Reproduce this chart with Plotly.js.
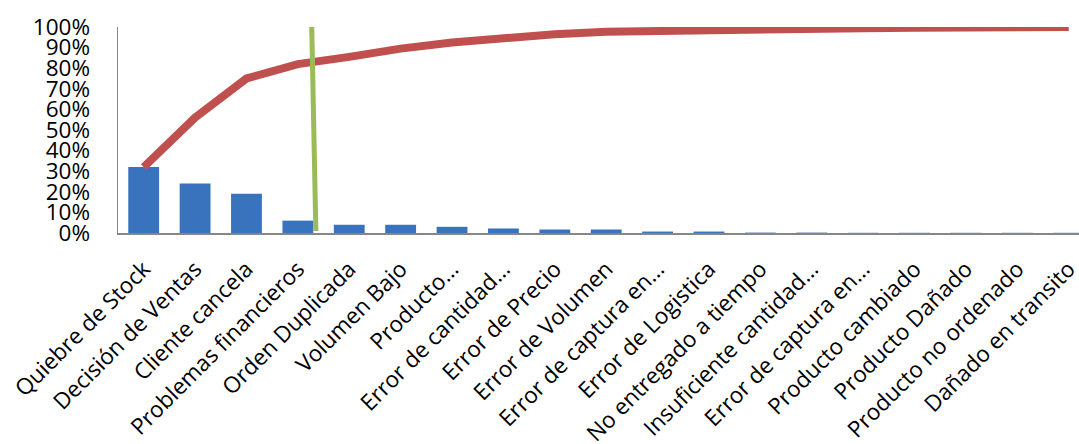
<!DOCTYPE html>
<html>
<head>
<meta charset="utf-8">
<script src="https://cdn.plot.ly/plotly-3.0.1.min.js"></script>
<style>html,body{margin:0;padding:0;background:#fff;}#chart{width:1079px;height:444px;}</style>
</head>
<body>
<div id="chart"></div>
<script>
const categories = [
  "Quiebre de Stock", "Decisión de Ventas", "Cliente cancela", "Problemas financieros",
  "Orden Duplicada", "Volumen Bajo", "Producto…", "Error de cantidad…",
  "Error de Precio", "Error de Volumen", "Error de captura en…", "Error de Logistica",
  "No entregado a tiempo", "Insuficiente cantidad…", "Error de captura en…",
  "Producto cambiado", "Producto Dañado", "Producto no ordenado", "Dañado en transito"
];
const share = [0.32, 0.24, 0.19, 0.06, 0.04, 0.04, 0.03, 0.022, 0.017, 0.017,
               0.007, 0.007, 0.002, 0.002, 0.001, 0.001, 0.001, 0.001, 0.001];
const cumulative = [0.32, 0.56, 0.75, 0.82, 0.855, 0.895, 0.925, 0.948, 0.965, 0.977,
                    0.982, 0.987, 0.990, 0.992, 0.994, 0.996, 0.998, 0.999, 1.0];
const cutoffX = [3.27, 3.35];
const cutoffY = [1.0, 0.01];
const yTicks = [0, 0.1, 0.2, 0.3, 0.4, 0.5, 0.6, 0.7, 0.8, 0.9, 1.0];
const yTickText = ["0%", "10%", "20%", "30%", "40%", "50%", "60%", "70%", "80%", "90%", "100%"];

const idx = categories.map((_, i) => i);
const FONT = "'Open Sans', sans-serif";

const traces = [
  {
    type: "bar", x: idx, y: share,
    marker: {color: "#3A73BD"},
    hoverinfo: "skip"
  },
  {
    type: "scatter", mode: "lines", x: idx, y: cumulative,
    line: {color: "#C0504D", width: 8},
    hoverinfo: "skip"
  },
  {
    type: "scatter", mode: "lines", x: cutoffX, y: cutoffY,
    line: {color: "#9BBB59", width: 5},
    hoverinfo: "skip"
  }
];

const layout = {
  width: 1079, height: 444,
  margin: {l: 118, r: 0, t: 27, b: 211, pad: 0},
  paper_bgcolor: "#ffffff", plot_bgcolor: "#ffffff",
  showlegend: false,
  bargap: 0.4,
  font: {family: FONT, color: "#000000", size: 22},
  xaxis: {
    range: [-0.5, 18.2],
    tickmode: "array", tickvals: idx, ticktext: categories,
    tickangle: -45,
    ticks: "", showgrid: false, zeroline: false,
    showline: true, linecolor: "#868686", linewidth: 2,
    tickfont: {family: FONT, size: 22.5, color: "#000"},
    ticklabelstandoff: 12,
    ticklabeloverflow: "allow",
    fixedrange: true
  },
  yaxis: {
    range: [0, 1],
    tickmode: "array", tickvals: yTicks, ticktext: yTickText,
    ticks: "", showgrid: false, zeroline: false,
    showline: true, linecolor: "#868686", linewidth: 1.5,
    tickfont: {family: FONT, size: 22.5, color: "#000"},
    ticklabelstandoff: 22,
    fixedrange: true
  }
};

Plotly.newPlot("chart", traces, layout, {staticPlot: true, displayModeBar: false});
</script>
</body>
</html>
